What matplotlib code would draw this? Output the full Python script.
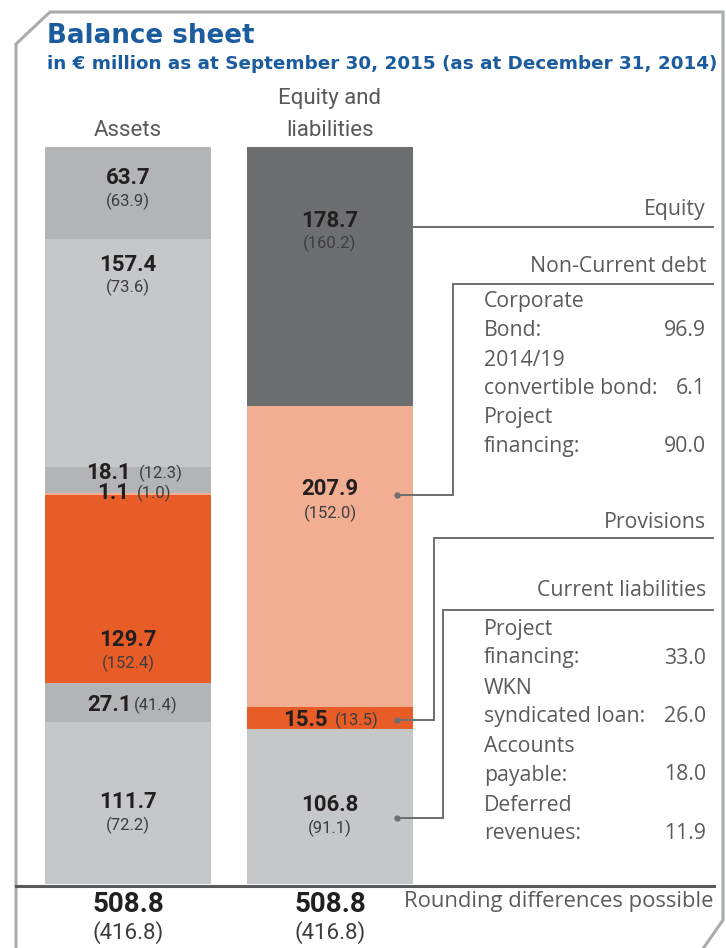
import matplotlib
matplotlib.use("Agg")
import matplotlib.pyplot as plt
import numpy as np

plt.rcParams['font.family'] = ['Roboto', 'DejaVu Sans']
OPEN = ['Open Sans', 'DejaVu Sans']
ROBO = ['Roboto', 'DejaVu Sans']
DEJA = ['DejaVu Sans']

# ---------------- data ----------------
asset_values_2015 = [63.7, 157.4, 18.1, 1.1, 129.7, 27.1, 111.7]      # top -> bottom
asset_values_2014 = [63.9, 73.6, 12.3, 1.0, 152.4, 41.4, 72.2]
liab_names = ["Equity", "Non-Current debt", "Provisions", "Current liabilities"]
liab_values_2015 = [178.7, 207.9, 15.5, 106.8]
liab_values_2014 = [160.2, 152.0, 13.5, 91.1]
total_2015 = 508.8
total_2014 = 416.8

noncurrent_items = ["Corporate\nBond:", "2014/19\nconvertible bond:", "Project\nfinancing:"]
noncurrent_values = ["96.9", "6.1", "90.0"]
current_items = ["Project\nfinancing:", "WKN\nsyndicated loan:", "Accounts\npayable:", "Deferred\nrevenues:"]
current_values = ["33.0", "26.0", "18.0", "11.9"]

# ---------------- style ----------------
MGRAY = "#b3b4b6"
LGRAY = "#c6c7c9"
ORANGE = "#e85d27"
SALMON = "#f2ae93"
DGRAY = "#6d6e70"
asset_colors = [MGRAY, LGRAY, MGRAY, SALMON, ORANGE, MGRAY, LGRAY]
liab_colors = [DGRAY, SALMON, ORANGE, LGRAY]
BLUE = "#1b5c9f"
TXT = "#231f20"
SUB = "#3d3d3f"
ANN = "#5a5b5d"
LINE = "#6d6e70"

W, H = 726, 948
fig = plt.figure(figsize=(W / 100, H / 100), dpi=100)

# bar axes: x in pixels, y in value units (0 at pixel 884, total at pixel 147)
base_px, top_px = 884, 147
ppu = (base_px - top_px) / total_2015
axb = fig.add_axes([0, 0, 1, 1])
axb.set_xlim(0, W)
axb.set_ylim(-(H - base_px) / ppu, base_px / ppu)
axb.axis("off")

x_assets, x_liab, bar_w = 128, 330, 166

def stack(ax, x, vals, cols):
    bottoms = np.cumsum([0] + list(vals[::-1]))[:-1][::-1]
    for v, b, c in zip(vals, bottoms, cols):
        ax.bar(x, v, bottom=b, width=bar_w, color=c, linewidth=0)

stack(axb, x_assets, asset_values_2015, asset_colors)
stack(axb, x_liab, liab_values_2015, liab_colors)

# overlay axes in pixel coordinates
ax = fig.add_axes([0, 0, 1, 1])
ax.set_xlim(0, W)
ax.set_ylim(H, 0)
ax.axis("off")
ax.patch.set_alpha(0)

# frame
FR = "#a9abae"
fx = [16, 16, 50, 723, 723, 700]
fy = [H + 5, 44, 12, 12, 920, H + 5]
ax.plot(fx, fy, color=FR, lw=2.2, solid_joinstyle="miter", clip_on=False)

# titles
ax.text(47, 36, "Balance sheet", color=BLUE, fontsize=18.8, fontweight="bold", va="center", ha="left",
        family=DEJA)
ax.text(47, 64, "in € million as at September 30, 2015 (as at December 31, 2014)", color=BLUE,
        fontsize=13.2, fontweight="bold", va="center", ha="left", family=DEJA)
HDR = 16
ax.text(330, 98, "Equity and", color="#58595b", fontsize=HDR, va="center", ha="center", family=ROBO)
ax.text(330, 130, "liabilities", color="#58595b", fontsize=HDR, va="center", ha="center", family=ROBO)
ax.text(128, 130, "Assets", color="#58595b", fontsize=HDR, va="center", ha="center", family=ROBO)

# value labels
BIG, SMALL = 16, 12

def two_line(x, y1, y2, v, p):
    ax.text(x, y1, f"{v:.1f}", fontsize=BIG, fontweight="bold", color=TXT, ha="center", va="center")
    ax.text(x, y2, f"({p:.1f})", fontsize=SMALL, color=SUB, ha="center", va="center")

def one_line(xr, xl, y, v, p):
    ax.text(xr, y, f"{v:.1f}", fontsize=BIG, fontweight="bold", color=TXT, ha="right", va="center")
    ax.text(xl, y, f"({p:.1f})", fontsize=SMALL, color=SUB, ha="left", va="center")

a15, a14 = asset_values_2015, asset_values_2014
two_line(128, 178, 201, a15[0], a14[0])
two_line(128, 265, 287, a15[1], a14[1])
one_line(131, 139, 473, a15[2], a14[2])
one_line(129, 137, 493, a15[3], a14[3])
two_line(128, 640, 663, a15[4], a14[4])
one_line(132, 134, 705, a15[5], a14[5])
two_line(128, 802, 825, a15[6], a14[6])

l15, l14 = liab_values_2015, liab_values_2014
two_line(330, 221, 243, l15[0], l14[0])
two_line(330, 489, 513, l15[1], l14[1])
one_line(328, 335, 720, l15[2], l14[2])
two_line(330, 805, 828, l15[3], l14[3])

# base line and totals
ax.plot([16, 714], [886, 886], color="#58595b", lw=2.2)
for xc in (128, 330):
    ax.text(xc, 905, f"{total_2015:.1f}", fontsize=20, fontweight="bold", color=TXT, ha="center", va="center")
    ax.text(xc, 933, f"({total_2014:.1f})", fontsize=16, color=SUB, ha="center", va="center")

ANNFS = 15.3
ax.text(713, 902, "Rounding differences possible", fontsize=15.8, color=ANN, ha="right", va="center",
        family=OPEN)

# connectors and category labels
dot_y = [227, 495, 720, 818]
line_y = [227, 284, 538, 610]
line_x0 = [393, 453, 434, 443]
label_y = [209, 267, 522, 590]
for i, name in enumerate(liab_names):
    ax.text(706, label_y[i], name, fontsize=ANNFS, color=ANN, ha="right", va="center", family=OPEN)
    if i == 0:
        ax.plot([393, 713], [227, 227], color=LINE, lw=1.4)
    else:
        ax.plot([397, line_x0[i], line_x0[i], 713], [dot_y[i], dot_y[i], line_y[i], line_y[i]],
                color=LINE, lw=1.4, solid_joinstyle="miter")
    ax.plot([393 if i == 0 else 397], [dot_y[i]], "o", color=LINE, ms=3.5)

def sublist(items, values, y0, step):
    for k, (it, v) in enumerate(zip(items, values)):
        l1, l2 = it.split("\n")
        y = y0 + k * step
        ax.text(484, y, l1, fontsize=ANNFS, color=ANN, ha="left", va="center", family=OPEN)
        ax.text(484, y + 28, l2, fontsize=ANNFS, color=ANN, ha="left", va="center", family=OPEN)
        ax.text(706, y + 28, v, fontsize=ANNFS, color=ANN, ha="right", va="center", family=OPEN)

sublist(noncurrent_items, noncurrent_values, 302, 58)
sublist(current_items, current_values, 630, 58.5)

fig.savefig("out.png", dpi=100)
